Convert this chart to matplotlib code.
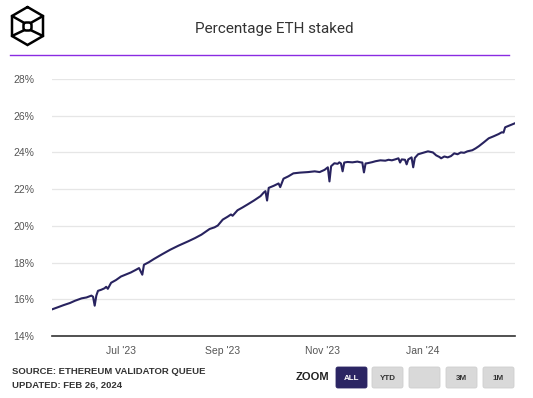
import pandas as pd
import matplotlib
matplotlib.use("Agg")
from matplotlib import pyplot as plt
from matplotlib.patches import FancyBboxPatch

# values
dates = ["2023-05-20", "2023-05-24", "2023-05-27", "2023-05-31", "2023-06-03", "2023-06-07",
         "2023-06-10", "2023-06-13", "2023-06-14", "2023-06-15", "2023-06-16", "2023-06-17",
         "2023-06-19", "2023-06-21", "2023-06-22", "2023-06-23", "2023-06-25", "2023-06-28",
         "2023-07-01", "2023-07-04", "2023-07-07", "2023-07-10", "2023-07-12", "2023-07-14",
         "2023-07-15", "2023-07-18", "2023-07-21", "2023-07-26", "2023-07-31", "2023-08-05",
         "2023-08-11", "2023-08-15", "2023-08-19", "2023-08-24", "2023-08-27", "2023-08-29",
         "2023-09-01", "2023-09-04", "2023-09-06", "2023-09-07", "2023-09-10", "2023-09-13",
         "2023-09-16", "2023-09-20", "2023-09-24", "2023-09-26", "2023-09-27", "2023-09-28",
         "2023-09-29", "2023-10-02", "2023-10-05", "2023-10-06", "2023-10-08", "2023-10-11",
         "2023-10-14", "2023-10-18", "2023-10-23", "2023-10-27", "2023-10-30", "2023-11-02",
         "2023-11-04", "2023-11-05", "2023-11-06", "2023-11-08", "2023-11-10", "2023-11-11",
         "2023-11-12", "2023-11-13", "2023-11-14", "2023-11-16", "2023-11-19", "2023-11-22",
         "2023-11-24", "2023-11-25", "2023-11-26", "2023-11-27", "2023-11-28", "2023-12-01",
         "2023-12-03", "2023-12-06", "2023-12-09", "2023-12-11", "2023-12-13", "2023-12-15",
         "2023-12-17", "2023-12-18", "2023-12-19", "2023-12-21", "2023-12-22", "2023-12-23",
         "2023-12-25", "2023-12-26", "2023-12-27", "2023-12-29", "2024-01-01", "2024-01-04",
         "2024-01-07", "2024-01-09", "2024-01-11", "2024-01-12", "2024-01-14", "2024-01-16",
         "2024-01-18", "2024-01-20", "2024-01-22", "2024-01-24", "2024-01-26", "2024-01-28",
         "2024-01-31", "2024-02-02", "2024-02-04", "2024-02-07", "2024-02-10", "2024-02-13",
         "2024-02-16", "2024-02-18", "2024-02-19", "2024-02-20", "2024-02-23", "2024-02-26"]
pct_staked = [15.45, 15.58, 15.68, 15.80, 15.92, 16.05,
              16.10, 16.20, 16.14, 15.65, 16.20, 16.46,
              16.52, 16.60, 16.68, 16.57, 16.90, 17.05,
              17.24, 17.35, 17.46, 17.60, 17.70, 17.34,
              17.88, 18.02, 18.19, 18.45, 18.70, 18.92,
              19.16, 19.33, 19.52, 19.83, 19.92, 20.02,
              20.34, 20.50, 20.62, 20.55, 20.85, 21.00,
              21.16, 21.38, 21.62, 21.82, 21.89, 21.38,
              22.07, 22.18, 22.31, 22.11, 22.57, 22.70,
              22.86, 22.90, 22.93, 22.97, 22.93, 23.05,
              23.19, 22.42, 23.25, 23.41, 23.38, 23.46,
              23.40, 22.97, 23.45, 23.48, 23.46, 23.50,
              23.46, 23.45, 22.91, 23.40, 23.41, 23.47,
              23.52, 23.57, 23.55, 23.60, 23.57, 23.62,
              23.68, 23.45, 23.62, 23.60, 23.35, 23.62,
              23.73, 23.19, 23.70, 23.90, 23.98, 24.06,
              24.00, 23.84, 23.75, 23.68, 23.78, 23.73,
              23.80, 23.95, 23.90, 24.00, 23.98, 24.06,
              24.12, 24.22, 24.34, 24.55, 24.77, 24.88,
              25.00, 25.10, 25.08, 25.37, 25.48, 25.59]
yticks = [14, 16, 18, 20, 22, 24, 26, 28]
xtick_dates = ["2023-07-01", "2023-09-01", "2023-11-01", "2024-01-01"]
xtick_labels = ["Jul '23", "Sep '23", "Nov '23", "Jan '24"]
zoom_buttons = ["ALL", "YTD", "", "3M", "1M"]

df = pd.DataFrame({"date": pd.to_datetime(dates), "pct": pct_staked})

W, H = 533, 398
fig = plt.figure(figsize=(W / 100, H / 100), dpi=100)
fig.patch.set_facecolor("white")

# chart axes, placed in pixel terms
ax = fig.add_axes([52 / W, 1 - 336 / H, 463 / W, 257 / H])
ax.plot(df["date"], df["pct"], color="#28235f", lw=1.5, solid_joinstyle="round")
ax.set_xlim(df["date"].iloc[0], df["date"].iloc[-1])
ax.set_ylim(14, 28)
ax.set_yticks(yticks)
ax.set_yticklabels(["%d%%" % v for v in yticks])
ax.set_xticks(pd.to_datetime(xtick_dates))
ax.set_xticklabels(xtick_labels)
ax.grid(axis="y", color="#e6e6e6", lw=0.9)
ax.set_axisbelow(True)
for s in ["top", "right", "left"]:
    ax.spines[s].set_visible(False)
ax.spines["bottom"].set_color("#333333")
ax.spines["bottom"].set_linewidth(1.2)
ax.tick_params(axis="y", length=0, pad=13, labelsize=7.5, labelcolor="#555555")
ax.tick_params(axis="x", length=0, pad=7, labelsize=7.5, labelcolor="#555555")
for lab in ax.get_xticklabels() + ax.get_yticklabels():
    lab.set_fontfamily("Liberation Sans")

# overlay in pixel coords for header / footer decorations
ov = fig.add_axes([0, 0, 1, 1], zorder=-1)
ov.set_xlim(0, W)
ov.set_ylim(H, 0)
ov.axis("off")

# logo (cube outline)
hx = [27.5, 43, 43, 27.5, 12, 12, 27.5]
hy = [7, 16, 36, 45, 36, 16, 7]
lk = dict(color="black", lw=1.8, solid_capstyle="round")
ov.plot(hx, hy, solid_joinstyle="miter", **lk)
ov.plot([12, 23.5], [16, 22.5], **lk)
ov.plot([43, 31.5], [16, 22.5], **lk)
ov.plot([23.5, 12], [30.5, 36], **lk)
ov.plot([31.5, 43], [30.5, 36], **lk)
ov.add_patch(FancyBboxPatch((23.5, 22.5), 8, 8, boxstyle="round,pad=0,rounding_size=2.5",
                            fill=False, ec="black", lw=1.8))

ov.text(274, 29, "Percentage ETH staked", ha="center", va="center",
        fontsize=11, color="#333333", family="Roboto")
ov.plot([10, 509], [55, 55], color="#8a2be2", lw=1.0)

# footer
ov.text(12, 372, "SOURCE: ETHEREUM VALIDATOR QUEUE", ha="left", va="center",
        fontsize=6.8, color="#333333", weight="bold", family="Liberation Sans")
ov.text(12, 385, "UPDATED: FEB 26, 2024", ha="left", va="center",
        fontsize=6.8, color="#333333", weight="bold", family="Liberation Sans")
ov.text(312, 377, "ZOOM", ha="center", va="center", fontsize=8,
        color="#222222", weight="bold", family="Liberation Sans")

btn_x = [336, 372, 409, 446, 483]
for i, (lbl, bx) in enumerate(zip(zoom_buttons, btn_x)):
    fc = "#2b2563" if i == 0 else "#d9d9d9"
    tc = "white" if i == 0 else "#333333"
    ov.add_patch(FancyBboxPatch((bx, 367), 31, 21, boxstyle="round,pad=0,rounding_size=2",
                                fc=fc, ec="#cfcfcf" if i else fc, lw=0.6))
    ov.text(bx + 15.5, 378, lbl, ha="center", va="center", fontsize=5.8,
            color=tc, weight="bold", family="Liberation Sans")

fig.savefig("out.png", dpi=100)
plt.close()
